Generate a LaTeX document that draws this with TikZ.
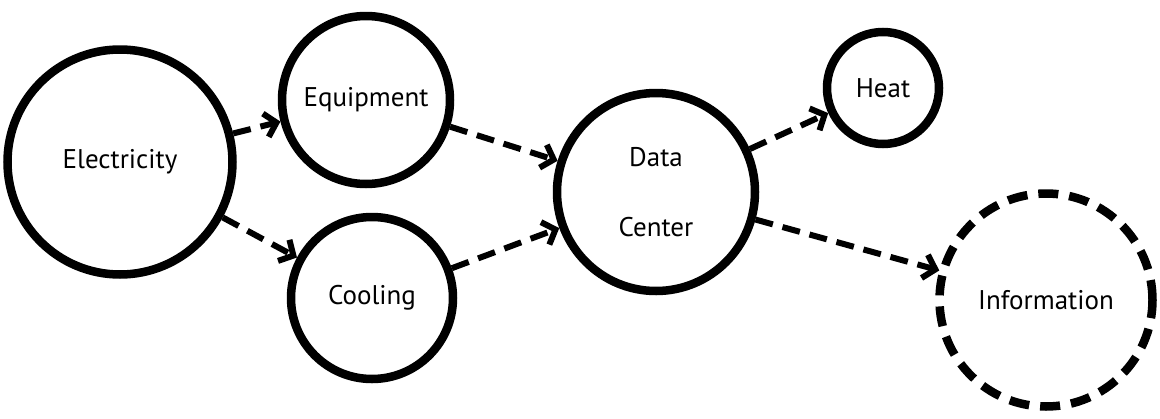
\documentclass[tikz,border=0pt]{standalone}
\usepackage{fontspec}
\setmainfont{PT Sans}
\usetikzlibrary{arrows.meta}
\begin{document}
\begin{tikzpicture}[x=1pt,y=-1pt,
  blob/.style={circle,draw,line width=8.5pt,inner sep=0pt,font=\fontsize{27}{32}\selectfont},
  flow/.style={line width=6pt,dash pattern=on 18pt off 10pt,-{Straight Barb[length=11pt,width=24pt]}},
  ]
\useasboundingbox (0,0) rectangle (1160,418);
\node[blob,minimum size=225pt] (el) at (120,162) {Electricity};
\node[blob,minimum size=168pt] (eq) at (366,100) {Equipment};
\node[blob,minimum size=162pt] (co) at (372,298) {Cooling};
\node[blob,minimum size=198pt,align=center] (dc) at (656,192) {Data\\[38pt]Center};
\node[blob,minimum size=112pt] (he) at (883,88) {Heat};
\node[blob,minimum size=213pt,dash pattern=on 20pt off 11pt] (in) at (1046,300) {Information};
\draw[flow] (el) -- (eq);
\draw[flow] (el) -- (co);
\draw[flow] (eq) -- (dc);
\draw[flow] (co) -- (dc);
\draw[flow] (dc) -- (he);
\draw[flow] (dc) -- (in);
\end{tikzpicture}
\end{document}
